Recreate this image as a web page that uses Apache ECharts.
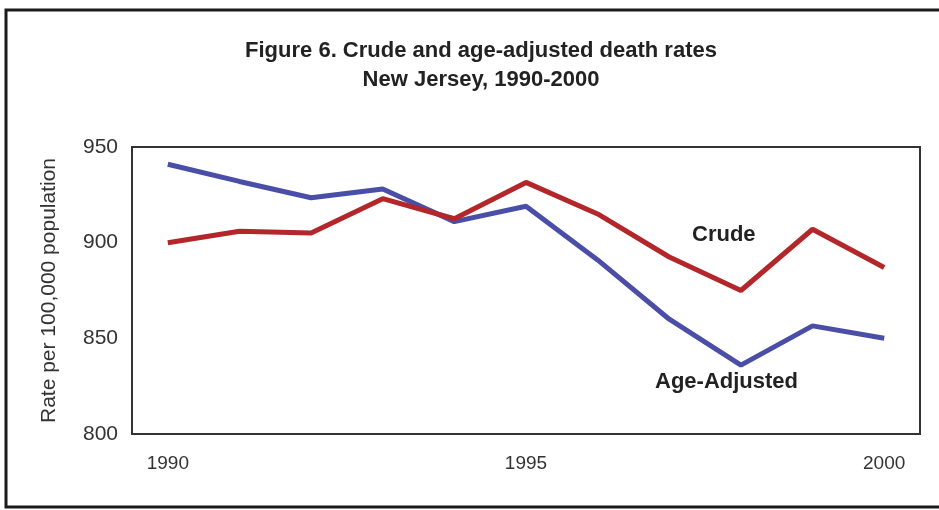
<!DOCTYPE html>
<html>
<head>
<meta charset="utf-8">
<script src="https://cdn.jsdelivr.net/npm/echarts@6/dist/echarts.min.js"></script>
<style>
  html, body { margin: 0; padding: 0; background: #fff; }
  #chart { width: 939px; height: 510px; }
</style>
</head>
<body>
<div id="chart"></div>
<script>
// death rates per 100,000
const years = ['1990', '1991', '1992', '1993', '1994', '1995', '1996', '1997', '1998', '1999', '2000']
const crude = [900, 906, 905, 923, 912.5, 931.5, 915, 892.5, 875, 907, 887]
const ageAdjusted = [941, 932, 923.5, 928, 911, 919, 891, 860, 836, 856.5, 850]
const yTicks = [800, 850, 900, 950]

const chart = echarts.init(document.getElementById('chart'))

const font = 'Liberation Sans, Arial, sans-serif'

chart.setOption({
  animation: false,
  backgroundColor: '#fff',
  title: {
    text: 'Figure 6. Crude and age-adjusted death rates\nNew Jersey, 1990-2000',
    left: 476,
    textAlign: 'center',
    top: 31,
    textStyle: {
      fontFamily: font,
      fontSize: 22,
      fontWeight: 'bold',
      color: '#222',
      lineHeight: 29
    }
  },
  grid: {
    left: 132,
    right: 19,
    top: 147,
    bottom: 76
  },
  xAxis: {
    type: 'category',
    data: years,
    boundaryGap: true,
    axisLine: { lineStyle: { color: '#333', width: 2 } },
    axisTick: { show: false },
    axisLabel: {
      interval: 4,
      margin: 20,
      fontFamily: font,
      fontSize: 19,
      color: '#333'
    },
    splitLine: { show: false }
  },
  yAxis: {
    type: 'value',
    min: yTicks[0],
    max: yTicks[yTicks.length - 1],
    interval: 50,
    name: 'Rate per 100,000 population',
    nameLocation: 'middle',
    nameGap: 72,
    nameRotate: 90,
    nameTextStyle: {
      fontFamily: font,
      fontSize: 21,
      color: '#333'
    },
    axisLine: { show: true, lineStyle: { color: '#333', width: 2 } },
    axisTick: { show: false },
    axisLabel: {
      margin: 14,
      fontFamily: font,
      fontSize: 21,
      color: '#333'
    },
    splitLine: { show: false }
  },
  graphic: [
    // outer figure frame
    {
      type: 'rect',
      shape: { x: 6, y: 10, width: 940, height: 497 },
      style: { fill: 'none', stroke: '#1a1a1a', lineWidth: 3 },
      silent: true
    },
    // plot box
    {
      type: 'rect',
      shape: { x: 132, y: 147, width: 788, height: 287 },
      style: { fill: 'none', stroke: '#333', lineWidth: 2 },
      silent: true
    },
    {
      type: 'text',
      left: 692,
      top: 224,
      style: {
        text: 'Crude',
        font: 'bold 22px ' + font,
        fill: '#222'
      }
    },
    {
      type: 'text',
      left: 655,
      top: 371,
      style: {
        text: 'Age-Adjusted',
        font: 'bold 22px ' + font,
        fill: '#222'
      }
    }
  ],
  series: [
    {
      name: 'Crude',
      type: 'line',
      data: crude,
      symbol: 'none',
      lineStyle: { color: '#b3262a', width: 5 },
      z: 3
    },
    {
      name: 'Age-Adjusted',
      type: 'line',
      data: ageAdjusted,
      symbol: 'none',
      lineStyle: { color: '#4a4ea6', width: 5 },
      z: 2
    }
  ]
})
</script>
</body>
</html>
